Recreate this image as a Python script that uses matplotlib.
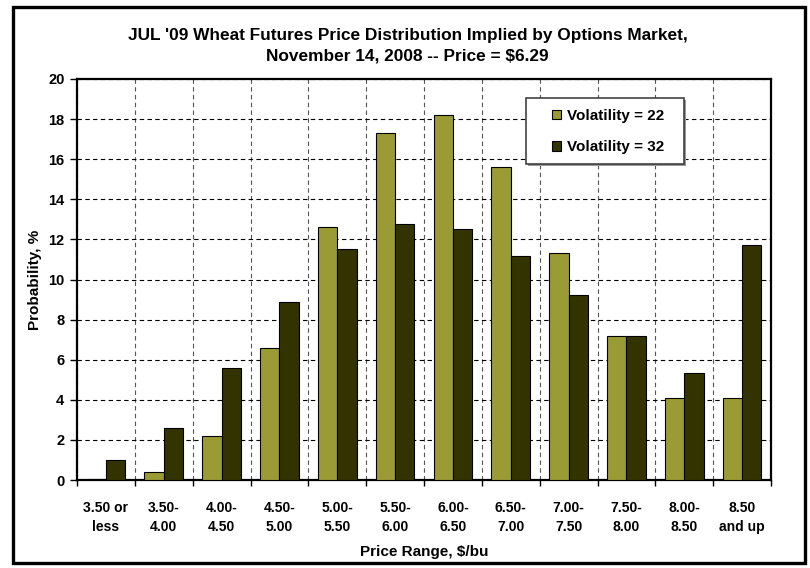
import matplotlib.pyplot as plt
from matplotlib.patches import Rectangle
import numpy as np

plt.rcParams['font.family'] = ['Liberation Sans', 'DejaVu Sans']
plt.rcParams['font.weight'] = 'bold'

price_ranges = ["3.50 or\nless", "3.50-\n4.00", "4.00-\n4.50", "4.50-\n5.00",
                "5.00-\n5.50", "5.50-\n6.00", "6.00-\n6.50", "6.50-\n7.00",
                "7.00-\n7.50", "7.50-\n8.00", "8.00-\n8.50", "8.50\nand up"]
vol_22 = [0.05, 0.4, 2.2, 6.6, 12.6, 17.3, 18.2, 15.6, 11.3, 7.2, 4.1, 4.1]
vol_32 = [1.0, 2.6, 5.6, 8.9, 11.5, 12.75, 12.5, 11.15, 9.25, 7.2, 5.35, 11.7]

W, H = 810, 568
fig = plt.figure(figsize=(W / 100, H / 100), dpi=100)
ax = fig.add_axes([77 / W, 1 - 480 / H, 694 / W, 401 / H])

x = np.arange(len(price_ranges))
w = 1 / 3
ax.bar(x - w / 2, vol_22, w, color='#9b9b36', edgecolor='black', linewidth=0.8,
       label='Volatility = 22', zorder=3)
ax.bar(x + w / 2, vol_32, w, color='#333300', edgecolor='black', linewidth=0.8,
       label='Volatility = 32', zorder=3)

ax.set_xlim(-0.5, len(price_ranges) - 0.5)
ax.set_ylim(0, 20)
ax.set_yticks(np.arange(0, 21, 2))
ax.set_yticklabels([str(v) for v in range(0, 21, 2)], fontsize=10.5, fontweight='bold')

# category labels in the middle, ticks and vertical grid on the boundaries
ax.set_xticks(x)
ax.set_xticklabels(price_ranges, fontsize=10, fontweight='bold', linespacing=1.45)
ax.set_xticks(np.arange(-0.5, len(price_ranges), 1), minor=True)
ax.tick_params(axis='x', which='major', length=0, pad=15)
ax.tick_params(axis='x', which='minor', length=4, width=1, direction='out')
ax.tick_params(axis='y', length=5, width=1, direction='out', pad=4)

ax.grid(axis='y', which='major', color='black', linestyle=(0, (4, 3)), linewidth=0.8, zorder=0)
ax.grid(axis='x', which='minor', color='#555555', linestyle=(0, (4, 3)), linewidth=0.8, zorder=0)
ax.set_axisbelow(True)

for side in ['left', 'right', 'top', 'bottom']:
    ax.spines[side].set_linewidth(1.6)
    ax.spines[side].set_color('black')

ax.set_ylabel('Probability, %', fontsize=11, fontweight='bold', labelpad=4.5)
ax.set_xlabel('Price Range, $/bu', fontsize=11, fontweight='bold', labelpad=8)

# legend box with a light shadow, entries placed inside it
def px_x(v):
    return (v - 77) / 694

def px_y(v):
    return (480 - v) / 401

ax.add_patch(Rectangle((px_x(528), px_y(166)), 158 / 694, 66 / 401, transform=ax.transAxes,
                       facecolor='#999999', edgecolor='none', zorder=4, clip_on=False))
ax.add_patch(Rectangle((px_x(526), px_y(164)), 158 / 694, 66 / 401, transform=ax.transAxes,
                       facecolor='white', edgecolor='#333333', linewidth=1.1, zorder=4,
                       clip_on=False))
leg = ax.legend(loc='center left', bbox_to_anchor=(px_x(551.5), px_y(131.5)),
                fontsize=11, frameon=False, labelspacing=1.12,
                handlelength=0.6, handleheight=0.6, handletextpad=0.4,
                borderpad=0, borderaxespad=0)
leg.set_zorder(5)
for t in leg.get_texts():
    t.set_fontweight('bold')

fig.text(0.503, 1 - 46 / H,
         "JUL '09 Wheat Futures Price Distribution Implied by Options Market,\n"
         "November 14, 2008 -- Price = $6.29",
         ha='center', va='center', fontsize=12.4, fontweight='bold', linespacing=1.45)

# outer frame around the whole chart
fig.patches.append(Rectangle((13 / W, 1 - 563 / H), 792 / W, 556 / H,
                             transform=fig.transFigure, fill=False,
                             edgecolor='black', linewidth=2.4))

fig.savefig('out.png', dpi=100)
